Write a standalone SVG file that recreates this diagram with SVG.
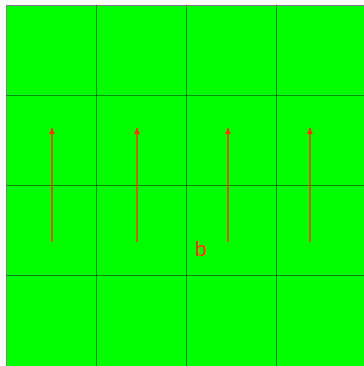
<svg xmlns="http://www.w3.org/2000/svg" width="364" height="366" viewBox="0 0 364 366">
<style>
.grid{stroke:#000;stroke-opacity:0.45;stroke-width:1;fill:none}
.arrow{stroke:#ff3300;stroke-width:1.5;fill:none}
.lbl{font-family:"Liberation Sans",Arial,sans-serif;font-size:21px;fill:#ff3300}
</style>
<defs>
<marker id="ah" markerWidth="6" markerHeight="6" refX="6" refY="3" orient="auto" markerUnits="userSpaceOnUse" viewBox="0 0 6 6">
<path d="M0,0 L6,3 L0,6 Z" fill="#ff3300"/>
</marker>
</defs>
<g id="background">
<rect x="6.5" y="5.5" width="360" height="362" fill="#00ff00" stroke="#808080" stroke-width="1"/>
</g>
<g id="grid">
<path class="grid" d="M96.5,5 V366 M186.5,5 V366 M276.5,5 V366 M6,95.5 H364 M6,185.5 H364 M6,275.5 H364"/>
</g>
<g id="connectors">
<line class="arrow" x1="52" y1="242" x2="52" y2="128" marker-end="url(#ah)"/>
<line class="arrow" x1="137" y1="242" x2="137" y2="128" marker-end="url(#ah)"/>
<line class="arrow" x1="228" y1="242" x2="228" y2="128" marker-end="url(#ah)"/>
<line class="arrow" x1="310" y1="242" x2="310" y2="128" marker-end="url(#ah)"/>
</g>
<g id="label-b">
<text class="lbl" x="195" y="256">b</text>
</g>
</svg>
